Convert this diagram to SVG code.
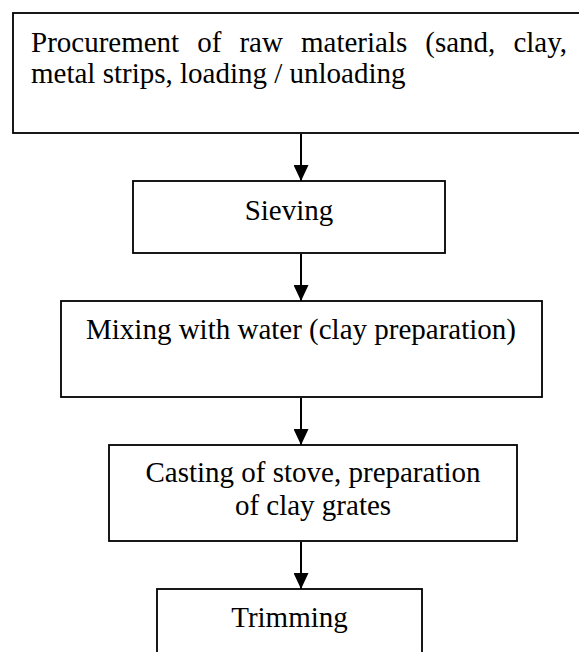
<svg xmlns="http://www.w3.org/2000/svg" width="579" height="652" viewBox="0 0 579 652">
<style>
.box{fill:#fff;stroke:#000;stroke-width:1.8}
.t{font-family:"Liberation Serif","Times New Roman",serif;font-size:29px;fill:#000}
.c{text-anchor:middle}
.ln{stroke:#000;stroke-width:2;fill:none}
</style>
<defs>
<marker id="ah2" markerWidth="16" markerHeight="15" refX="16" refY="7.5" orient="auto" markerUnits="userSpaceOnUse" viewBox="0 0 16 15">
<path d="M0,0 L16,7.5 L0,15 Z" fill="#000"/>
</marker>
</defs>
<g id="connectors">
<line class="ln" x1="301" y1="134" x2="301" y2="181" marker-end="url(#ah2)"/>
<line class="ln" x1="301" y1="254" x2="301" y2="301" marker-end="url(#ah2)"/>
<line class="ln" x1="301" y1="398" x2="301" y2="445" marker-end="url(#ah2)"/>
<line class="ln" x1="301" y1="542" x2="301" y2="589" marker-end="url(#ah2)"/>
</g>
<g id="node1">
<rect class="box" x="13" y="13" width="575" height="120"/>
<text class="t" x="31" y="52" word-spacing="10.8">Procurement of raw materials (sand, clay,</text>
<text class="t" x="31" y="83">metal strips, loading / unloading</text>
</g>
<g id="node2">
<rect class="box" x="133" y="181" width="312" height="72"/>
<text class="t c" x="289" y="220">Sieving</text>
</g>
<g id="node3">
<rect class="box" x="61" y="301" width="481" height="96"/>
<text class="t c" x="301" y="339">Mixing with water (clay preparation)</text>
</g>
<g id="node4">
<rect class="box" x="109" y="445" width="408" height="96"/>
<text class="t c" x="313" y="482">Casting of stove, preparation</text>
<text class="t c" x="313" y="515">of clay grates</text>
</g>
<g id="node5">
<rect class="box" x="157" y="589" width="265" height="80"/>
<text class="t c" x="289.5" y="627">Trimming</text>
</g>
</svg>
